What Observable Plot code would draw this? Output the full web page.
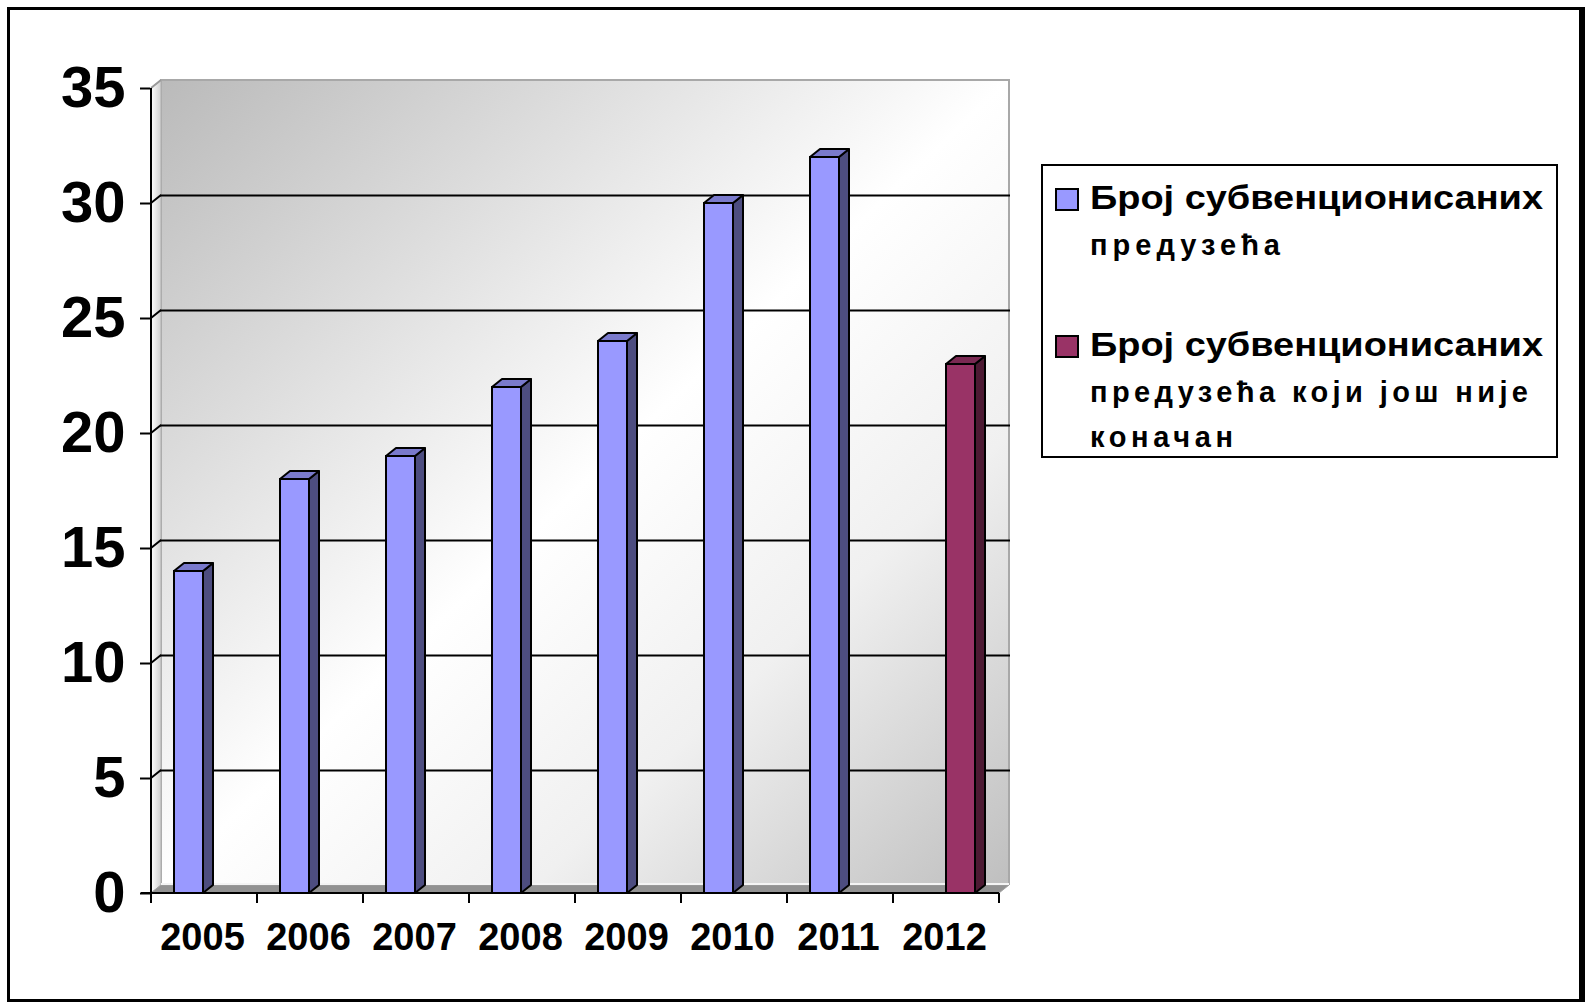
<!DOCTYPE html>
<html>
<head>
<meta charset="utf-8">
<script src="https://cdn.jsdelivr.net/npm/d3@7"></script>
<script src="https://cdn.jsdelivr.net/npm/@observablehq/plot@0.6"></script>
<style>
  html, body { margin: 0; padding: 0; background: #fff; }
  #wrap { position: relative; width: 1585px; height: 1003px; overflow: hidden; font-family: "Liberation Sans", Arial, sans-serif; }
  #frame { position: absolute; left: 7px; top: 7px; width: 1569px; height: 989px; border: 3px solid #000; border-right: 6px solid #000; box-sizing: content-box; }
  #chart, #legend { position: absolute; left: 0; top: 0; }
</style>
</head>
<body>
<div id="wrap">
  <div id="frame"></div>
  <div id="chart"></div>
  <div id="legend"></div>
</div>
<script>
// ---- data ----
const years = ["2005", "2006", "2007", "2008", "2009", "2010", "2011", "2012"];
const subsidized = [14, 18, 19, 22, 24, 30, 32, null];
const subsidizedNotFinal = [null, null, null, null, null, null, null, 23];
const yTicks = [0, 5, 10, 15, 20, 25, 30, 35];
const gridTicks = [5, 10, 15, 20, 25, 30];
const legendLines = [
  ["Број субвенционисаних", "предузећа"],
  ["Број субвенционисаних", "предузећа који још није", "коначан"]
];

// ---- style ----
const FONT = "Liberation Sans, Arial, sans-serif";
const DX = 10, DY = -8; // 3D depth offset
const series = [
  {values: subsidized, front: "#9999ff", top: "#7a7acc", side: "#4d4d80", insetLeft: 23, insetRight: 54},
  {values: subsidizedNotFinal, front: "#993366", top: "#7a2952", side: "#4d1a33", insetLeft: 53, insetRight: 24}
];
const legendWidths = [[453, 190], [453, 438, 143]];
const yMax = 35;

const tables = series.map(s => years.map((year, i) => ({year, value: s.values[i]})).filter(d => d.value != null));

function chrome(index, {x, y}) {
  const bw = x.bandwidth();
  const x0 = x(years[0]), x1 = x(years[years.length - 1]) + bw;
  const yb = y(0), yt = y(yMax);
  const g = d3.create("svg:g");
  const defs = g.append("defs");
  const wall = defs.append("linearGradient").attr("id", "wallGrad")
    .attr("x1", 0).attr("y1", 0).attr("x2", 1).attr("y2", 1);
  wall.append("stop").attr("offset", 0).attr("stop-color", "#bababa");
  wall.append("stop").attr("offset", 0.5).attr("stop-color", "#ffffff");
  wall.append("stop").attr("offset", 0.72).attr("stop-color", "#f0f0f0");
  wall.append("stop").attr("offset", 1).attr("stop-color", "#bfbfbf");
  const side = defs.append("linearGradient").attr("id", "sideGrad")
    .attr("x1", 0).attr("y1", 0).attr("x2", 1).attr("y2", 0);
  side.append("stop").attr("offset", 0).attr("stop-color", "#ffffff");
  side.append("stop").attr("offset", 1).attr("stop-color", "#d0d0d0");
  // back wall
  g.append("rect").attr("x", x0 + DX).attr("y", yt + DY).attr("width", x1 - x0).attr("height", yb - yt)
    .attr("fill", "url(#wallGrad)");
  g.append("polyline")
    .attr("points", [[x0 + DX, yb + DY], [x0 + DX, yt + DY], [x1 + DX, yt + DY], [x1 + DX, yb + DY]].join(" "))
    .attr("fill", "none").attr("stroke", "#a8a8a8").attr("stroke-width", 2);
  // side wall
  g.append("polygon")
    .attr("points", [[x0, yb], [x0, yt], [x0 + DX, yt + DY], [x0 + DX, yb + DY]].join(" "))
    .attr("fill", "url(#sideGrad)").attr("stroke", "#b0b0b0").attr("stroke-width", 1);
  // floor
  g.append("polygon")
    .attr("points", [[x0, yb], [x1, yb], [x1 + DX, yb + DY], [x0 + DX, yb + DY]].join(" "))
    .attr("fill", "#929292").attr("stroke", "#a0a0a0").attr("stroke-width", 1);
  g.append("line").attr("x1", x0 + DX).attr("x2", x1 + DX).attr("y1", yb + DY - 1).attr("y2", yb + DY - 1)
    .attr("stroke", "#f4f4f4").attr("stroke-width", 2);
  // grid diagonals
  for (const t of gridTicks) {
    g.append("line").attr("x1", x0).attr("y1", y(t)).attr("x2", x0 + DX).attr("y2", y(t) + DY)
      .attr("stroke", "#000").attr("stroke-width", 2);
  }
  g.append("line").attr("x1", x0).attr("y1", yt).attr("x2", x0 + DX).attr("y2", yt + DY)
    .attr("stroke", "#999").attr("stroke-width", 2);
  return g.node();
}

function axesLines(index, {x, y}) {
  const bw = x.bandwidth();
  const x0 = x(years[0]), x1 = x(years[years.length - 1]) + bw;
  const yb = y(0), yt = y(yMax);
  const g = d3.create("svg:g").attr("stroke", "#000").attr("stroke-width", 2);
  g.append("line").attr("x1", x0).attr("x2", x0).attr("y1", yt).attr("y2", yb + 10);
  g.append("line").attr("x1", x0 - 10).attr("x2", x1).attr("y1", yb).attr("y2", yb);
  years.forEach((yr) => {
    const xb = x(yr) + bw;
    g.append("line").attr("x1", xb).attr("x2", xb).attr("y1", yb).attr("y2", yb + 10);
  });
  return g.node();
}

function bars3d(s) {
  return function(index, {x, y}) {
    const bw = x.bandwidth();
    const g = d3.create("svg:g").attr("stroke", "#000").attr("stroke-width", 2).attr("stroke-linejoin", "round");
    years.forEach((yr, i) => {
      const v = s.values[i];
      if (v == null) return;
      const xl = x(yr) + s.insetLeft, xr = x(yr) + bw - s.insetRight;
      const yv = y(v), y0 = y(0);
      g.append("polygon").attr("fill", s.side)
        .attr("points", [[xr, yv], [xr + DX, yv + DY], [xr + DX, y0 + DY], [xr, y0]].join(" "));
      g.append("polygon").attr("fill", s.top)
        .attr("points", [[xl, yv], [xr, yv], [xr + DX, yv + DY], [xl + DX, yv + DY]].join(" "));
    });
    return g.node();
  };
}

const chart = Plot.plot({
  width: 1585,
  height: 1003,
  marginLeft: 150,
  marginRight: 585,
  marginTop: 88,
  marginBottom: 110,
  style: {fontFamily: FONT, background: "transparent", color: "#000", overflow: "visible"},
  x: {type: "band", domain: years, padding: 0},
  y: {domain: [0, yMax], nice: false},
  marks: [
    chrome,
    Plot.ruleY(gridTicks, {dx: DX, dy: DY, stroke: "#000", strokeWidth: 2}),
    ...series.map((s, k) => Plot.barY(tables[k], {
      x: "year", y: "value", fill: s.front, stroke: "#000", strokeWidth: 2,
      insetLeft: s.insetLeft, insetRight: s.insetRight
    })),
    ...series.map(s => bars3d(s)),
    axesLines,
    Plot.axisY({ticks: yTicks, tickSize: 10, tickPadding: 15, fontSize: 58, fontWeight: "bold",
      label: null, strokeWidth: 2, tickFormat: d => String(d)}),
    Plot.axisX({tickSize: 0, tickPadding: 30, fontSize: 38, fontWeight: "bold", label: null, dx: -2})
  ]
});
document.getElementById("chart").append(chart);

// ---- legend ----
const lg = d3.create("svg").attr("width", 1585).attr("height", 1003)
  .style("font-family", FONT).style("pointer-events", "none");
lg.append("rect").attr("x", 1042).attr("y", 165).attr("width", 515).attr("height", 292)
  .attr("fill", "#fff").attr("stroke", "#000").attr("stroke-width", 2);
const entryBase = [209, 356];
legendLines.forEach((lines, k) => {
  const base = entryBase[k];
  lg.append("rect").attr("x", 1056).attr("y", base - 20).attr("width", 22).attr("height", 21)
    .attr("fill", series[k].front).attr("stroke", "#000").attr("stroke-width", 2);
  lines.forEach((t, j) => {
    const txt = lg.append("text").attr("x", 1090).attr("y", base + j * 45.5).text(t)
      .attr("font-weight", "bold").attr("fill", "#000")
      .attr("textLength", legendWidths[k][j]);
    if (j === 0) txt.attr("font-size", 33).attr("lengthAdjust", "spacingAndGlyphs");
    else txt.attr("font-size", 29).attr("lengthAdjust", "spacing");
  });
});
document.getElementById("legend").append(lg.node());
</script>
</body>
</html>
